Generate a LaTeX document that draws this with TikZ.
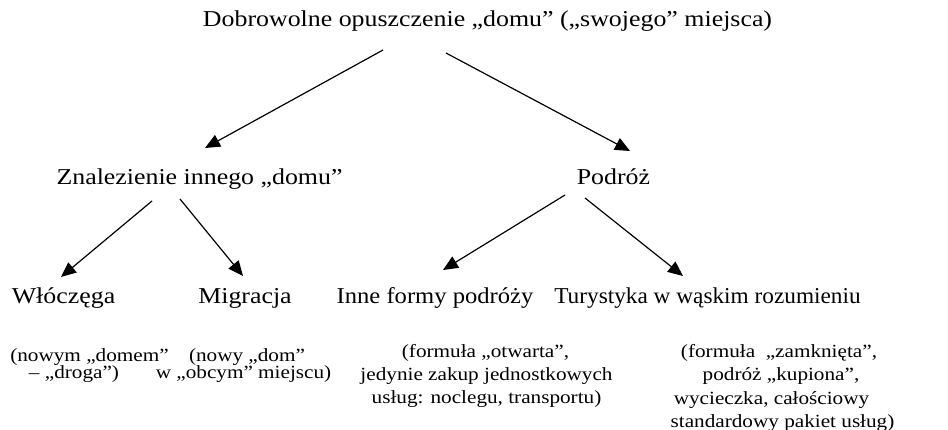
\documentclass[tikz,border=0pt]{standalone}
\usepackage{fontspec}
\setmainfont[FakeStretch=1.14]{Liberation Serif}
\usetikzlibrary{arrows.meta}
\begin{document}
\begin{tikzpicture}[x=1pt,y=-1pt,
  txt/.style={inner sep=0pt, anchor=base, font=\fontsize{22.7}{22.7}\selectfont},
  small/.style={inner sep=0pt, anchor=base, font=\fontsize{18.6}{18.6}\selectfont},
  arr/.style={line width=1.2pt, -{Triangle[length=15pt,width=13pt]}}]
\useasboundingbox[fill=white] (0,0) rectangle (948,430);
% level 0
\node[txt] (top) at (487.5,27) {Dobrowolne opuszczenie „domu” („swojego” miejsca)};
% level 1
\node[txt] (znal) at (199.5,185) {Znalezienie innego „domu”};
\node[txt] (podroz) at (613.5,185) {Podróż};
% level 2
\node[txt] (wlo) at (63.5,304) {Włóczęga};
\node[txt] (mig) at (245,304) {Migracja};
\node[txt] (inne) at (435,304) {\scalebox{0.95}[1]{Inne formy podróży}};
\node[txt] (tur) at (707.5,304) {\scalebox{0.9}[1]{Turystyka w wąskim rozumieniu}};
% descriptions
\node[small] (wloA) at (89.5,361) {(nowym „domem”};
\node[small] (wloB) at (74,378) {– „droga”)};
\node[small] (migA) at (247,361) {(nowy „dom”};
\node[small] (migB) at (243.5,378) {w „obcym” miejscu)};
\node[small] (inneA) at (485.5,358) {(formuła „otwarta”,};
\node[small] (inneB) at (486.5,381) {jedynie zakup jednostkowych};
\node[small] (inneC) at (486.5,403) {usług: noclegu, transportu)};
\node[small] (turA) at (779,357) {(formuła\ \ „zamknięta”,};
\node[small] (turB) at (781,381) {podróż „kupiona”,};
\node[small] (turC) at (771.5,404) {wycieczka, całościowy};
\node[small] (turD) at (782.5,427) {standardowy pakiet usług)};
% connector end points
\coordinate (t1) at (383,50);   \coordinate (z1) at (205,148);
\coordinate (t2) at (446,53);   \coordinate (p1) at (630,151);
\coordinate (z2) at (152,201);  \coordinate (w1) at (61,277);
\coordinate (z3) at (180,199);  \coordinate (m1) at (243,276);
\coordinate (p2) at (565,195);  \coordinate (i1) at (443,270);
\coordinate (p3) at (585,198);  \coordinate (u1) at (683,276);
\draw[arr] (t1) -- (z1);
\draw[arr] (t2) -- (p1);
\draw[arr] (z2) -- (w1);
\draw[arr] (z3) -- (m1);
\draw[arr] (p2) -- (i1);
\draw[arr] (p3) -- (u1);
\end{tikzpicture}
\end{document}
